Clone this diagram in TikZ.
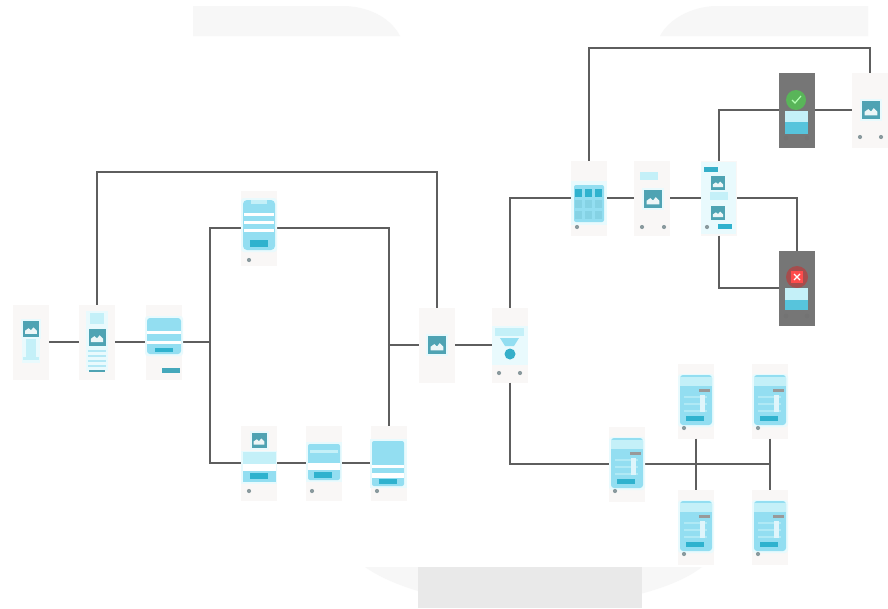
\documentclass[tikz,border=0pt]{standalone}
\usetikzlibrary{calc}
\definecolor{lineg}{HTML}{5E5E5E}
\definecolor{scrbg}{HTML}{F9F7F6}
\definecolor{cyanb}{HTML}{93DEF1}
\definecolor{cyanl}{HTML}{C4F0F8}
\definecolor{halo}{HTML}{E9FAFD}
\definecolor{tealb}{HTML}{2FB2CE}
\definecolor{icon}{HTML}{4FA3B3}
\definecolor{dotg}{HTML}{8A9A9E}
\definecolor{darks}{HTML}{767676}
\definecolor{paleg}{HTML}{F7F7F7}
\definecolor{midg}{HTML}{E9E9E9}
\tikzset{
 screen/.style={draw=none,fill=scrbg,minimum width=36pt,minimum height=75pt,inner sep=0pt,outer sep=0pt},
 darkscreen/.style={screen,fill=darks},
 conn/.style={draw=lineg,line width=2.1pt,line join=miter},
 bgshape/.style={fill=paleg,draw=none}
}
% icon centred on (#1,#2), side #3, in scope coordinates relative to the screen
\newcommand{\picon}[3]{%
 \fill[halo] ($(#1,#2)+(-#3/2-2,-#3/2-2)$) rectangle ($(#1,#2)+(#3/2+2,#3/2+2)$);
 \fill[icon] ($(#1,#2)+(-#3/2,-#3/2)$) rectangle ($(#1,#2)+(#3/2,#3/2)$);
 \fill[white!90!icon] ($(#1,#2)+(-#3*0.36,#3*0.3)$) -- ($(#1,#2)+(-#3*0.36,#3*0.1)$) -- ($(#1,#2)+(-#3*0.15,-#3*0.05)$) -- ($(#1,#2)+(0,#3*0.08)$) -- ($(#1,#2)+(#3*0.15,-#3*0.1)$) -- ($(#1,#2)+(#3*0.36,#3*0.1)$) -- ($(#1,#2)+(#3*0.36,#3*0.3)$) -- cycle;
}
\newcommand{\pdot}[2]{\fill[dotg] (#1,#2) circle (2.1pt);}
\newcommand{\pbtn}[4]{\fill[tealb] (#1,#2) rectangle (#3,#4);}
% form screen (grid with small grey bar)
\newcommand{\pform}{%
 \fill[halo,rounded corners=3pt] (-18,-27) rectangle (18,26);
 \fill[cyanb,rounded corners=3pt] (-16,-26) rectangle (16,24);
 \fill[cyanl] (-16,-24) rectangle (16,-15);
 \fill[gray!80] (3,-12) rectangle (14,-9);
 \foreach \yy in {-5,2,9}{\fill[cyanl!60!cyanb] (-12,\yy) rectangle (11,\yy+1.5);}
 \fill[white!70!cyanb] (4,-6) rectangle (9,11);
 \pbtn{-10}{15}{8}{20}
 \pdot{-12}{27}
}
\begin{document}
\begin{tikzpicture}[x=1pt,y=-1pt]
\useasboundingbox (0,0) rectangle (888,608);
\fill[white] (0,0) rectangle (888,608);
% faint background shapes
\path[bgshape] (193,36) -- (193,6) -- (345,6) .. controls (372,7) and (392,20) .. (400,36) -- cycle;
\path[bgshape] (868,36) -- (868,6) -- (715,6) .. controls (690,7) and (668,20) .. (660,36) -- cycle;
\path[bgshape] (365,567) .. controls (400,592) and (470,607) .. (530,607) .. controls (600,607) and (670,592) .. (702,567) -- cycle;
\fill[midg] (418,567) rectangle (642,608);

% screens
\node[screen] (a) at (31,342) {};
\node[screen] (b) at (97,342) {};
\node[screen] (c) at (164,342) {};
\node[screen] (d) at (259,228) {};
\node[screen] (e) at (259,463) {};
\node[screen] (f) at (324,463) {};
\node[screen] (g) at (389,463) {};
\node[screen] (h) at (437,345) {};
\node[screen] (i) at (510,345) {};
\node[screen] (j) at (589,198) {};
\node[screen] (k) at (652,198) {};
\node[screen] (l) at (719,198) {};
\node[darkscreen] (m) at (797,110) {};
\node[screen] (n) at (870,110) {};
\node[darkscreen] (o) at (797,288) {};
\node[screen] (p) at (627,464) {};
\node[screen] (q) at (696,401) {};
\node[screen] (r) at (770,401) {};
\node[screen] (s) at (696,527) {};
\node[screen] (t) at (770,527) {};
\coordinate (jl) at (210,342);
\coordinate (jt) at (210,228);
\coordinate (jb) at (210,463);
\coordinate (jr) at (389,345);
\coordinate (jp) at (770,464);

% connectors
\draw[conn] (a) -- (b);
\draw[conn] (b) -- (c);
\draw[conn] (c) -- (jl);
\draw[conn] (e) -- (jb) -- (jt) -- (d);
\draw[conn] (e) -- (f);
\draw[conn] (f) -- (g);
\draw[conn] (d) -- (389,228) -- (g.north);
\draw[conn] (jr) -- (h);
\draw[conn] (h) -- (i);
\draw[conn] (b.north) |- (437,172) -- (h.north);
\draw[conn] (i.north) |- (j.west);
\draw[conn] (j) -- (k);
\draw[conn] (k) -- (l);
\draw[conn] (j.north) |- (870,48) -- (n.north);
\draw[conn] (l.north) |- (m.west);
\draw[conn] (m) -- (n);
\draw[conn] (l.east) -| (o.north);
\draw[conn] (l.south) |- (o.west);
\draw[conn] (i.south) |- (p.west);
\draw[conn] (p.east) -- (jp);
\draw[conn] (q.south) -- (s.north);
\draw[conn] (r.south) -- (t.north);

% screen a
\begin{scope}[shift={(31,342)}]
 \fill[halo] (-9,-4) rectangle (9,21);
 \fill[cyanl] (-5,-3) rectangle (5,15);
 \fill[cyanl] (-8,15) rectangle (8,18);
 \picon{0}{-13}{16}
\end{scope}
% screen b
\begin{scope}[shift={(97,342)}]
 \fill[halo] (-11,-31) rectangle (11,29);
 \fill[cyanl] (-7,-29) rectangle (7,-18);
 \picon{0}{-5}{17}
 \foreach \yy in {8,13,18,23}{\fill[cyanb!70!white] (-9,\yy) rectangle (9,\yy+2);}
 \fill[icon] (-8,28) rectangle (8,30);
\end{scope}
% screen c
\begin{scope}[shift={(164,342)}]
 \fill[halo,rounded corners=3pt] (-19,-26) rectangle (19,14);
 \fill[cyanb,rounded corners=3pt] (-17,-24) rectangle (17,12);
 \fill[white] (-17,-11) rectangle (17,-8);
 \fill[white] (-17,-1) rectangle (17,2);
 \pbtn{-9}{6}{9}{10}
 \fill[icon!70!tealb] (-2,26) rectangle (16,31);
\end{scope}
% screen d
\begin{scope}[shift={(259,228)}]
 \fill[halo,rounded corners=3pt] (-18,-30) rectangle (18,24);
 \fill[cyanb,rounded corners=4pt] (-16,-28) rectangle (16,22);
 \foreach \yy in {-15,-7,1}{\fill[white] (-15,\yy) rectangle (15,\yy+2.5);}
 \fill[cyanl] (-8,-28) rectangle (8,-24);
 \pbtn{-9}{12}{9}{19}
 \pdot{-10}{32}
\end{scope}
% screen e
\begin{scope}[shift={(259,463)}]
 \fill[halo] (-18,-12) rectangle (18,21);
 \fill[cyanb] (-16,-11) rectangle (17,19);
 \fill[cyanl] (-16,-11) rectangle (17,1);
 \fill[white] (-16,1) rectangle (17,8);
 \picon{0}{-23}{15}
 \pbtn{-9}{10}{9}{16}
 \pdot{-10}{28}
\end{scope}
% screen f
\begin{scope}[shift={(324,463)}]
 \fill[halo] (-18,-21) rectangle (18,19);
 \fill[cyanb,rounded corners=2pt] (-16,-19) rectangle (16,17);
 \fill[cyanl] (-14,-13) rectangle (14,-10);
 \fill[white] (-16,0) rectangle (16,7);
 \pbtn{-10}{9}{8}{15}
 \pdot{-12}{28}
\end{scope}
% screen g
\begin{scope}[shift={(389,463)}]
 \fill[halo] (-19,-24) rectangle (18,25);
 \fill[cyanb,rounded corners=2pt] (-17,-22) rectangle (15,23);
 \fill[white] (-17,2) rectangle (15,5);
 \fill[white] (-17,10) rectangle (15,15);
 \pbtn{-10}{16}{8}{21}
 \pdot{-12}{28}
\end{scope}
% screen h
\begin{scope}[shift={(437,345)}]
 \picon{0}{0}{18}
\end{scope}
% screen i
\begin{scope}[shift={(510,345)}]
 \fill[halo] (-18,-19) rectangle (18,20);
 \fill[cyanl] (-15,-17) rectangle (14,-9);
 \fill[cyanb] (-10,-7) -- (9,-7) -- (4,1) -- (-5,1) -- cycle;
 \fill[tealb!80!icon] (0,9) circle (5.5pt);
 \pdot{-11}{28}
 \pdot{10}{28}
\end{scope}
% screen j
\begin{scope}[shift={(589,198)}]
 \fill[halo] (-18,-17) rectangle (18,27);
 \fill[cyanb,rounded corners=2pt] (-15,-13) rectangle (15,24);
 \foreach \xx in {-11,-1,9}{
  \fill[tealb] (\xx-3.5,-9) rectangle (\xx+3.5,-1);
  \fill[cyanb!80!icon] (\xx-3.5,2) rectangle (\xx+3.5,10);
  \fill[cyanb!80!icon] (\xx-3.5,13) rectangle (\xx+3.5,21);
 }
 \pdot{-12}{29}
\end{scope}
% screen k
\begin{scope}[shift={(652,198)}]
 \fill[cyanl] (-12,-26) rectangle (6,-18);
 \picon{1}{1}{18}
 \pdot{-10}{29}
 \pdot{12}{29}
\end{scope}
% screen l
\begin{scope}[shift={(718,198)}]
 \fill[halo] (-17,-36) rectangle (18,36);
 \fill[tealb!80!icon] (-14,-31) rectangle (0,-26);
 \picon{0}{-15}{14}
 \fill[cyanl] (-8,-6) rectangle (10,2);
 \picon{0}{15}{14}
 \pdot{-11}{29}
 \fill[tealb] (0,26) rectangle (14,31);
\end{scope}
% screen m
\begin{scope}[shift={(797,110)}]
 \fill[green!55!black!65!white] (-1,-10) circle (10pt);
 \draw[white!70!green,line width=1.2pt] (-5,-10) -- (-2,-7) -- (4,-14);
 \fill[cyanl] (-12,1) rectangle (11,12);
 \fill[tealb!60!cyanb] (-12,12) rectangle (11,24);
 \fill[black!55] (-11,28) circle (2.3pt);
 \fill[black!55] (10,28) circle (2.3pt);
\end{scope}
% screen n
\begin{scope}[shift={(870,110)}]
 \picon{1}{0}{18}
 \pdot{-10}{27}
 \pdot{11}{27}
\end{scope}
% screen o
\begin{scope}[shift={(797,288)}]
 \fill[red!35!darks] (0,-11) circle (11pt);
 \fill[red!70!white] (-6,-17) rectangle (6,-5);
 \draw[white,line width=1.2pt] (-3,-14) -- (3,-8) (3,-14) -- (-3,-8);
 \fill[cyanl] (-12,0) rectangle (11,12);
 \fill[tealb!60!cyanb] (-12,12) rectangle (11,22);
 \fill[black!55] (-11,28) circle (2.3pt);
 \fill[black!55] (10,28) circle (2.3pt);
\end{scope}
% form screens
\begin{scope}[shift={(627,464)}]\pform\end{scope}
\begin{scope}[shift={(696,401)}]\pform\end{scope}
\begin{scope}[shift={(770,401)}]\pform\end{scope}
\begin{scope}[shift={(696,527)}]\pform\end{scope}
\begin{scope}[shift={(770,527)}]\pform\end{scope}
\end{tikzpicture}
\end{document}
